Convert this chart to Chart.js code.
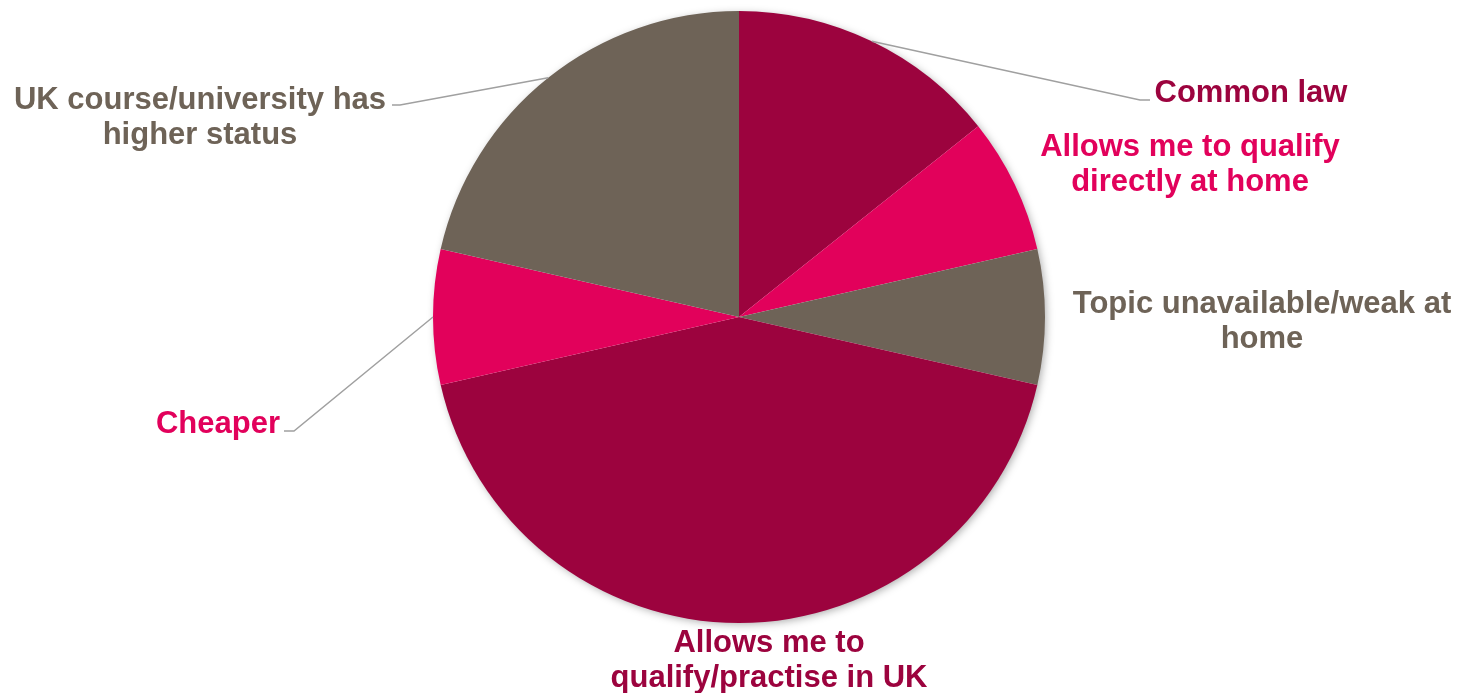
<!DOCTYPE html>
<html>
<head>
<meta charset="utf-8">
<script src="https://cdn.jsdelivr.net/npm/chart.js@4.4.1/dist/chart.umd.min.js"></script>
<style>
    html, body { margin: 0; padding: 0; background: #fff; }
    #chartWrap { width: 1457px; height: 693px; position: relative; }
</style>
</head>
<body>
<div id="chartWrap"><canvas id="chartPie"></canvas></div>
<script>
    // reasons given (number of respondents)
    var reasons = [
        'Common law',
        'Allows me to qualify directly at home',
        'Topic unavailable/weak at home',
        'Allows me to qualify/practise in UK',
        'Cheaper',
        'UK course/university has higher status'
    ];
    var counts = [2, 1, 1, 6, 1, 3];
    var colours = ['#9c033e', '#e2015b', '#6e6357', '#9c033e', '#e2015b', '#6e6357'];

    // label text split into lines, with offsets from the pie centre
    var labelLines = [
        ['Common law'],
        ['Allows me to qualify', 'directly at home'],
        ['Topic unavailable/weak at', 'home'],
        ['Allows me to', 'qualify/practise in UK'],
        ['Cheaper'],
        ['UK course/university has', 'higher status']
    ];
    var labelPos = [
        { dx: 512, dy: -227 },
        { dx: 451, dy: -173 },
        { dx: 523, dy: -16 },
        { dx: 30, dy: 323 },
        { dx: -521, dy: 104 },
        { dx: -539, dy: -220 }
    ];
    // leader lines: elbow and end point, relative to centre (null = none)
    var leaders = [
        [{ dx: 401, dy: -217 }, { dx: 411, dy: -217 }],
        null,
        null,
        null,
        [{ dx: -445, dy: 114 }, { dx: -455, dy: 114 }],
        [{ dx: -339, dy: -212 }, { dx: -347, dy: -212 }]
    ];

    // soft shadow under the whole pie
    var pieShadow = {
        id: 'pieShadow',
        beforeDatasetsDraw: function (chart) {
            var arc = chart.getDatasetMeta(0).data[0];
            var ctx = chart.ctx;
            ctx.save();
            ctx.shadowColor = 'rgba(0,0,0,0.35)';
            ctx.shadowBlur = 8;
            ctx.shadowOffsetX = 2;
            ctx.shadowOffsetY = 2;
            ctx.fillStyle = '#ffffff';
            ctx.beginPath();
            ctx.arc(arc.x, arc.y, arc.outerRadius - 1, 0, Math.PI * 2);
            ctx.fill();
            ctx.restore();
        }
    };

    // category labels with leader lines
    var pieLabels = {
        id: 'pieLabels',
        afterDatasetsDraw: function (chart) {
            var ctx = chart.ctx;
            var arcs = chart.getDatasetMeta(0).data;
            ctx.save();
            ctx.font = 'bold 31px "Liberation Sans", Arial, sans-serif';
            ctx.textBaseline = 'middle';
            arcs.forEach(function (arc, i) {
                var cx = arc.x, cy = arc.y;
                if (leaders[i]) {
                    var mid = (arc.startAngle + arc.endAngle) / 2;
                    ctx.strokeStyle = '#a0a0a0';
                    ctx.lineWidth = 1.5;
                    ctx.beginPath();
                    ctx.moveTo(cx + Math.cos(mid) * arc.outerRadius, cy + Math.sin(mid) * arc.outerRadius);
                    ctx.lineTo(cx + leaders[i][0].dx, cy + leaders[i][0].dy);
                    ctx.lineTo(cx + leaders[i][1].dx, cy + leaders[i][1].dy);
                    ctx.stroke();
                }
                ctx.fillStyle = colours[i];
                ctx.textAlign = 'center';
                labelLines[i].forEach(function (line, k) {
                    ctx.fillText(line, cx + labelPos[i].dx, cy + labelPos[i].dy + 3 + k * 35.5);
                });
            });
            ctx.restore();
        }
    };

    var datapie = {
        labels: reasons,
        datasets: [{
            data: counts,
            backgroundColor: colours,
            borderWidth: 0
        }]
    };

    var optionpie = {
        maintainAspectRatio: false,
        responsive: true,
        animation: false,
        layout: {
            padding: { top: 11, bottom: 70, left: 21, right: 0 }
        },
        plugins: {
            legend: { display: false },
            tooltip: { enabled: false }
        }
    };

    var ctx = document.getElementById('chartPie');
    var myPieChart = new Chart(ctx, {
        type: 'pie',
        data: datapie,
        options: optionpie,
        plugins: [pieShadow, pieLabels]
    });
</script>
</body>
</html>
